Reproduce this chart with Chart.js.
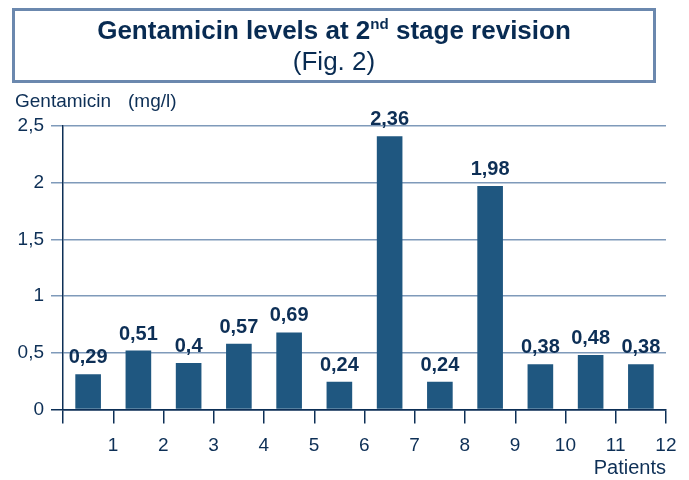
<!DOCTYPE html>
<html>
<head>
<meta charset="utf-8">
<script src="https://cdn.jsdelivr.net/npm/chart.js@4"></script>
<style>
  body { margin: 0; background: #fff; }
  #wrap { position: relative; width: 689px; height: 480px; font-family: "Liberation Sans", Arial, sans-serif; color: #082b52; }
  #box { position: absolute; left: 12px; top: 8px; width: 644px; height: 75px; box-sizing: border-box; border: 3px solid #6b88ae; }
  .tline { position: absolute; left: 12px; width: 644px; text-align: center; font-size: 26px; line-height: 30px; white-space: nowrap; }
  #t1 { top: 15px; font-weight: bold; }
  #t2 { top: 46px; }
  sup { font-size: 58%; line-height: 0; vertical-align: 10px; }
</style>
</head>
<body>
<div id="wrap">
  <canvas id="chart" width="689" height="480"></canvas>
  <div id="box"></div>
  <div class="tline" id="t1">Gentamicin levels at 2<sup>nd</sup> stage revision</div>
  <div class="tline" id="t2">(Fig. 2)</div>
</div>
<script>
// patients and gentamicin levels (mg/l)
const patients = ['1', '2', '3', '4', '5', '6', '7', '8', '9', '10', '11', '12'];
// bar heights as drawn in the figure
const barLevels = [0.31, 0.52, 0.41, 0.58, 0.68, 0.245, 2.41, 0.245, 1.97, 0.40, 0.48, 0.40];
// values printed above the bars
const printedLevels = [0.29, 0.51, 0.4, 0.57, 0.69, 0.24, 2.36, 0.24, 1.98, 0.38, 0.48, 0.38];
const yTicks = [0, 0.5, 1, 1.5, 2, 2.5];

const FONT = '"Liberation Sans", Arial, sans-serif';
const DARK = '#0d2f56';
const GRID = '#7f9aba';
const BAR = '#1f5780';

const commaNum = v => String(v).replace('.', ',');

const valueLabels = {
    id: 'valueLabels',
    afterDatasetsDraw(chart) {
        const ctx = chart.ctx;
        const meta = chart.getDatasetMeta(0);
        ctx.save();
        ctx.font = 'bold 20px ' + FONT;
        ctx.fillStyle = DARK;
        ctx.textAlign = 'center';
        ctx.textBaseline = 'alphabetic';
        meta.data.forEach((bar, i) => {
            ctx.fillText(commaNum(printedLevels[i]), bar.x, bar.y - 11);
        });
        ctx.restore();
    }
};

const unitLabel = {
    id: 'unitLabel',
    afterDraw(chart) {
        const ctx = chart.ctx;
        ctx.save();
        ctx.font = '19px ' + FONT;
        ctx.fillStyle = DARK;
        ctx.textAlign = 'left';
        ctx.textBaseline = 'alphabetic';
        ctx.fillText('Gentamicin', 15, 107);
        ctx.fillText('(mg/l)', 128, 107);
        ctx.restore();
    }
};

new Chart(document.getElementById('chart'), {
    type: 'bar',
    data: {
        labels: patients,
        datasets: [{
            data: barLevels,
            backgroundColor: BAR,
            categoryPercentage: 1,
            barPercentage: 0.51
        }]
    },
    options: {
        responsive: false,
        animation: false,
        layout: { padding: { left: 17, right: 23, top: 126, bottom: 0 } },
        plugins: {
            legend: { display: false },
            tooltip: { enabled: false }
        },
        scales: {
            x: {
                offset: true,
                afterFit: s => { s.height = 70.5; },
                grid: {
                    offset: true,
                    drawOnChartArea: false,
                    tickLength: 14,
                    color: DARK,
                    lineWidth: 1.5
                },
                border: { color: DARK, width: 1.5 },
                ticks: {
                    color: DARK,
                    font: { family: FONT, size: 19 },
                    padding: 11,
                    labelOffset: 25,
                    maxRotation: 0
                },
                title: {
                    display: true,
                    text: 'Patients',
                    align: 'end',
                    color: DARK,
                    font: { family: FONT, size: 20 },
                    padding: { top: 0, bottom: 0 }
                }
            },
            y: {
                min: 0,
                max: 2.5,
                afterFit: s => { s.width = 46; },
                afterBuildTicks: s => { s.ticks = yTicks.map(v => ({ value: v })); },
                grid: {
                    tickLength: 12,
                    lineWidth: 1.5,
                    color: c => (c.tick && c.tick.value === 0 ? DARK : GRID)
                },
                border: { color: DARK, width: 1.5 },
                ticks: {
                    color: DARK,
                    font: { family: FONT, size: 19 },
                    padding: 7,
                    callback: v => commaNum(v)
                }
            }
        }
    },
    plugins: [valueLabels, unitLabel]
});
</script>
</body>
</html>
